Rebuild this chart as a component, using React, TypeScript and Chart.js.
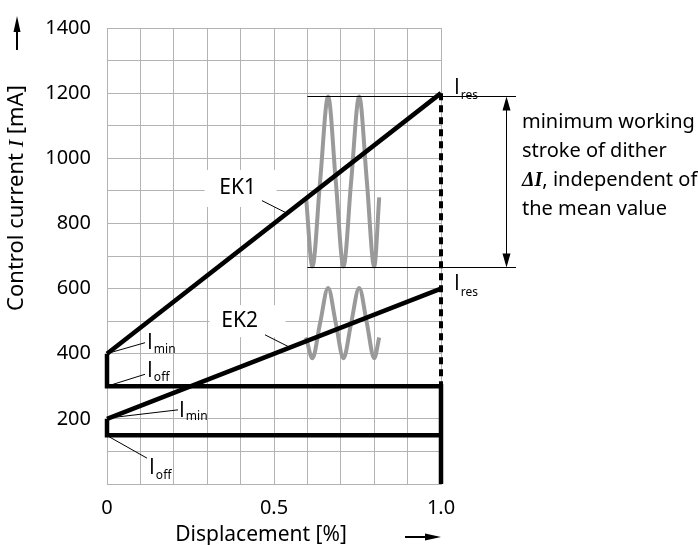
import React, { useEffect, useRef } from "react";
import { Chart, registerables } from "chart.js";

Chart.register(...registerables);

// ---------- data ----------
const X_TICK_VALUES = [0, 0.5, 1.0];
const X_TICK_LABELS = ["0", "0.5", "1.0"];
const Y_TICK_VALUES = [200, 400, 600, 800, 1000, 1200, 1400];
const Y_TICK_LABELS = ["200", "400", "600", "800", "1000", "1200", "1400"];

const EK1_X = [0, 1.0];
const EK1_Y = [400, 1200];
const EK2_X = [0, 1.0];
const EK2_Y = [200, 600];

const EK1_OFF_X = [0, 0, 1.0, 1.0];
const EK1_OFF_Y = [400, 300, 300, 0];
const EK2_OFF_X = [0, 0, 1.0];
const EK2_OFF_Y = [200, 150, 150];

const STROKE_END_X = [1.0, 1.0];
const STROKE_END_Y = [1200, 0];

const DITHER_X = [0.596, 0.615, 0.638, 0.662, 0.685, 0.708, 0.731, 0.755, 0.778, 0.8, 0.815];
const DITHER1_Y = [880, 668, 929, 1190, 929, 668, 929, 1190, 929, 668, 880];
const DITHER2_Y = [450, 386, 494, 602, 494, 386, 494, 602, 494, 386, 450];

const DITHER_HIGH = 1190;
const DITHER_LOW = 666;
const DITHER_BAND_START = 0.6;

const RIGHT_TEXT = ["minimum working", "stroke of dither", "", "the mean value"];

// ---------- styles / layout ----------
const SANS = '"Noto Sans", sans-serif';
const PLAIN = '"Open Sans", sans-serif';
const SERIF = '"Liberation Serif", serif';
const GRID = "#b3b3b3";
const GREY = "#9a9a9a";

const pts = (xs: number[], ys: number[]) => xs.map((x, i) => ({ x, y: ys[i] }));

function arrowHead(ctx: CanvasRenderingContext2D, tx: number, ty: number, dx: number, dy: number, len: number, half: number) {
  const bx = tx - dx * len, by = ty - dy * len;
  ctx.beginPath();
  ctx.moveTo(tx, ty);
  ctx.lineTo(bx - dy * half, by + dx * half);
  ctx.lineTo(bx + dy * half, by - dx * half);
  ctx.closePath();
  ctx.fill();
}

function subLabel(ctx: CanvasRenderingContext2D, x: number, y: number, sub: string, subDy: number) {
  ctx.font = `21px ${PLAIN}`;
  ctx.textAlign = "left";
  ctx.textBaseline = "alphabetic";
  ctx.fillText("I", x, y);
  const w = ctx.measureText("I").width;
  ctx.font = `12px ${SANS}`;
  ctx.fillText(sub, x + w + 1, y + subDy);
}

const overlay = {
  id: "overlay",
  beforeDatasetsDraw(chart: any) {
    const ctx: CanvasRenderingContext2D = chart.ctx;
    const xs = chart.scales.x, ys = chart.scales.y;
    ctx.save();
    ctx.fillStyle = "#fff";
    const b1x = xs.getPixelForValue(0.391), b1y = ys.getPixelForValue(909);
    ctx.fillRect(b1x - 33, b1y - 18, 72, 37);
    const b2x = xs.getPixelForValue(0.397), b2y = ys.getPixelForValue(500);
    ctx.fillRect(b2x - 30, b2y - 16, 76, 32);
    ctx.restore();
  },
  afterDatasetsDraw(chart: any) {
    const ctx: CanvasRenderingContext2D = chart.ctx;
    const xs = chart.scales.x, ys = chart.scales.y;
    const px = (v: number) => xs.getPixelForValue(v);
    const py = (v: number) => ys.getPixelForValue(v);
    ctx.save();
    ctx.fillStyle = "#000";
    ctx.strokeStyle = "#000";
    ctx.lineWidth = 1;

    const x1 = px(1.0);
    const hiY = Math.round(py(DITHER_HIGH)) + 0.5;
    const loY = Math.round(py(DITHER_LOW)) + 0.5;
    ctx.beginPath();
    ctx.moveTo(px(DITHER_BAND_START), hiY);
    ctx.lineTo(x1 + 75, hiY);
    ctx.moveTo(px(DITHER_BAND_START), loY);
    ctx.lineTo(x1 + 75, loY);
    ctx.stroke();
    const ax = Math.round(x1 + 65) + 0.5;
    ctx.beginPath();
    ctx.moveTo(ax, hiY + 10);
    ctx.lineTo(ax, loY - 10);
    ctx.stroke();
    arrowHead(ctx, ax, hiY, 0, -1, 14, 4);
    arrowHead(ctx, ax, loY, 0, 1, 14, 4);

    const leader = (ax0: number, ay0: number, ax1: number, ay1: number) => {
      ctx.beginPath();
      ctx.moveTo(ax0, ay0);
      ctx.lineTo(ax1, ay1);
      ctx.stroke();
    };
    const e1x = 0.539, e2x = 0.548;
    leader(px(0.464), py(870), px(e1x), py(EK1_Y[0] + (EK1_Y[1] - EK1_Y[0]) * e1x));
    leader(px(0.473), py(458), px(e2x), py(EK2_Y[0] + (EK2_Y[1] - EK2_Y[0]) * e2x));

    const x0 = px(0);
    const a400 = py(EK1_Y[0]), a300 = py(EK1_OFF_Y[1]), a200 = py(EK2_Y[0]), a150 = py(EK2_OFF_Y[1]);
    leader(x0 + 3, a400 - 1, x0 + 38, a400 - 11);
    leader(x0 + 3, a300 - 1, x0 + 38, a300 - 12);
    leader(x0 + 3, a200 - 1, x0 + 71, a200 - 9);
    leader(x0 + 1, a150 + 1, x0 + 40, a150 + 23);

    subLabel(ctx, x0 + 40, a400 - 5, "min", 4);
    subLabel(ctx, x0 + 40, a300 - 9, "off", 4);
    subLabel(ctx, x0 + 72, a200 - 2, "min", 3);
    subLabel(ctx, x0 + 42, a150 + 39, "off", 5);
    subLabel(ctx, x1 + 13, py(1200) + 1, "res", 5);
    subLabel(ctx, x1 + 13, py(600) + 1, "res", 6);

    ctx.font = `21px ${SANS}`;
    ctx.textAlign = "center";
    ctx.textBaseline = "middle";
    ctx.fillText("EK1", px(0.391), py(909));
    ctx.fillText("EK2", px(0.397), py(500));

    ctx.textAlign = "left";
    ctx.textBaseline = "alphabetic";
    const tx = x1 + 81;
    const ty = py(1200);
    RIGHT_TEXT.forEach((t, i) => {
      const yy = ty + 35 + i * 29;
      if (i === 2) {
        ctx.font = `bold italic 20px ${SERIF}`;
        ctx.fillText("\u0394I", tx, yy);
        const w = ctx.measureText("\u0394I").width;
        ctx.font = `20px ${SANS}`;
        ctx.fillText(", independent of", tx + w, yy);
      } else {
        ctx.font = `20px ${SANS}`;
        ctx.fillText(t, tx, yy);
      }
    });

    ctx.font = `21px ${SANS}`;
    ctx.textAlign = "center";
    ctx.fillText("Displacement [%]", 261, 541);
    ctx.lineWidth = 2;
    ctx.beginPath();
    ctx.moveTo(405, 537);
    ctx.lineTo(428, 537);
    ctx.stroke();
    arrowHead(ctx, x1, 537, 1, 0, 16, 3.5);

    ctx.beginPath();
    ctx.moveTo(17, 50);
    ctx.lineTo(17, 28);
    ctx.stroke();
    arrowHead(ctx, 17, 16, 0, -1, 16, 3.5);

    ctx.save();
    ctx.translate(23, 198);
    ctx.rotate(-Math.PI / 2);
    ctx.textAlign = "left";
    const p1 = "Control current ", p2 = "I", p3 = " [mA]";
    ctx.font = `22px ${SANS}`;
    const w1 = ctx.measureText(p1).width, w3 = ctx.measureText(p3).width;
    ctx.font = `italic 22px ${SERIF}`;
    const w2 = ctx.measureText(p2).width;
    let cx = -(w1 + w2 + w3) / 2;
    ctx.font = `22px ${SANS}`;
    ctx.fillText(p1, cx, 0);
    cx += w1;
    ctx.font = `italic 22px ${SERIF}`;
    ctx.fillText(p2, cx, 0);
    cx += w2;
    ctx.font = `22px ${SANS}`;
    ctx.fillText(p3, cx, 0);
    ctx.restore();

    ctx.restore();
  },
};

export default function App() {
  const ref = useRef<HTMLCanvasElement>(null);
  useEffect(() => {
    const black = { borderColor: "#000", borderWidth: 4.5, pointRadius: 0, tension: 0, borderJoinStyle: "miter" as const, fill: false, order: 0, clip: false };
    const chart = new Chart(ref.current!, {
      type: "line",
      data: {
        datasets: [
          { data: pts(EK1_X, EK1_Y), ...black },
          { data: pts(EK2_X, EK2_Y), ...black },
          { data: pts(EK1_OFF_X, EK1_OFF_Y), ...black },
          { data: pts(EK2_OFF_X, EK2_OFF_Y), ...black },
          { data: pts(STROKE_END_X, STROKE_END_Y), ...black, borderWidth: 4, borderDash: [7, 5], order: 1 },
          { data: pts(DITHER_X, DITHER1_Y), borderColor: GREY, borderWidth: 4, pointRadius: 0, cubicInterpolationMode: "monotone", fill: false, order: 2 },
          { data: pts(DITHER_X, DITHER2_Y), borderColor: GREY, borderWidth: 4, pointRadius: 0, cubicInterpolationMode: "monotone", fill: false, order: 2 },
        ] as any,
      },
      options: {
        responsive: false,
        animation: false,
        events: [],
        layout: { padding: { left: 0, right: 257, top: 18, bottom: 0 } },
        plugins: { legend: { display: false }, tooltip: { enabled: false } },
        scales: {
          x: {
            type: "linear",
            min: 0,
            max: 1.0,
            afterFit: (s: any) => { s.height = 61; },
            grid: { color: GRID, lineWidth: 1, drawTicks: false },
            border: { display: true, color: GRID },
            ticks: {
              stepSize: 0.1,
              autoSkip: false,
              maxRotation: 0,
              minRotation: 0,
              padding: 12,
              color: "#000",
              font: { family: SANS, size: 20 },
              callback: (v: any) => {
                const i = X_TICK_VALUES.findIndex((t) => Math.abs(t - Number(v)) < 1e-6);
                return i >= 0 ? X_TICK_LABELS[i] : "";
              },
            },
          },
          y: {
            type: "linear",
            min: 0,
            max: 1400,
            afterFit: (s: any) => { s.width = 107; },
            grid: { color: GRID, lineWidth: 1, drawTicks: false },
            border: { display: true, color: GRID },
            ticks: {
              stepSize: 100,
              autoSkip: false,
              padding: 16,
              color: "#000",
              font: { family: SANS, size: 20 },
              callback: (v: any) => {
                const i = Y_TICK_VALUES.findIndex((t) => Math.abs(t - Number(v)) < 1e-6);
                return i >= 0 ? Y_TICK_LABELS[i] : "";
              },
            },
          },
        },
      },
      plugins: [overlay],
    });
    return () => chart.destroy();
  }, []);
  return (
    <div style={{ position: "absolute", left: 0, top: 0, width: 698, height: 545, background: "#fff" }}>
      <canvas ref={ref} width={698} height={545} style={{ display: "block" }} />
    </div>
  );
}
